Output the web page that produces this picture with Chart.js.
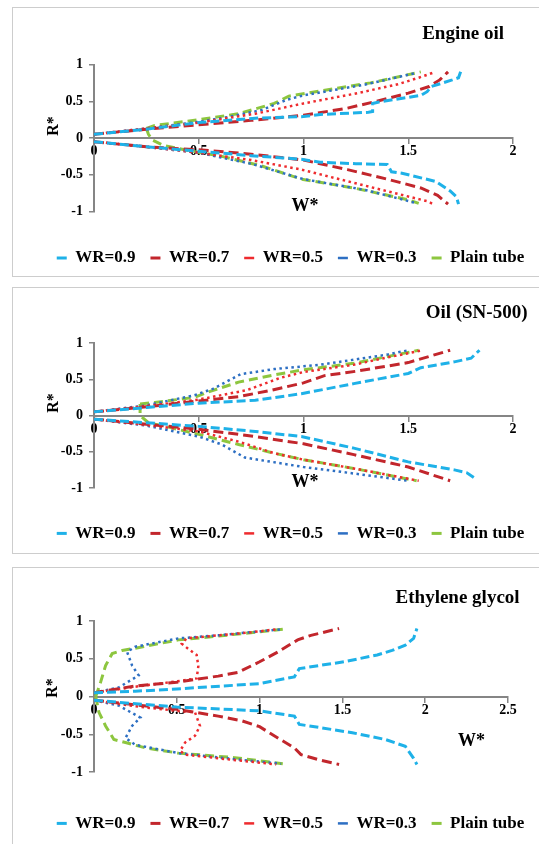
<!DOCTYPE html>
<html><head><meta charset="utf-8">
<script src="https://cdn.jsdelivr.net/npm/chart.js@4.4.1/dist/chart.umd.min.js"></script>
<style>
html,body{margin:0;padding:0;background:#fff;overflow:hidden;width:539px;height:844px;}
#page{position:relative;width:539px;height:844px;overflow:hidden;background:#fff;}
.frame{position:absolute;border:1px solid #cdcdcd;box-sizing:border-box;}
canvas{position:absolute;left:8px;}
.lbl{position:absolute;font-family:'Liberation Serif','Times New Roman',serif;font-weight:bold;color:#000;white-space:nowrap;}
.ttl{font-size:19px;line-height:19px;}
.wax{font-size:18px;line-height:18px;}
.rax{font-size:16px;line-height:16px;transform:translate(-50%,-50%) rotate(-90deg);}
</style></head>
<body><div id="page">
<div class="frame" style="left:12px;top:7px;width:540px;height:270px"></div>
<div class="frame" style="left:12px;top:287px;width:540px;height:267px"></div>
<div class="frame" style="left:12px;top:567px;width:540px;height:300px"></div>
<canvas id="c1" width="565" height="273" style="top:8px"></canvas>
<canvas id="c2" width="565" height="269" style="top:288px"></canvas>
<canvas id="c3" width="565" height="279" style="top:568px"></canvas>
<div class="lbl ttl" style="right:35px;top:23.4px">Engine oil</div>
<div class="lbl ttl" style="right:11.5px;top:302.4px">Oil (SN-500)</div>
<div class="lbl ttl" style="right:19.4px;top:587.4px">Ethylene glycol</div>
<div class="lbl rax" style="left:52.5px;top:126px">R*</div>
<div class="lbl rax" style="left:52.5px;top:402.5px">R*</div>
<div class="lbl rax" style="left:52px;top:688px">R*</div>
<div class="lbl wax" style="left:291.5px;top:196.4px">W*</div>
<div class="lbl wax" style="left:291.5px;top:472.2px">W*</div>
<div class="lbl wax" style="left:458px;top:731px">W*</div>
</div>
<script>
// ---------- data ----------
const seriesLabels = ['WR=0.9', 'WR=0.7', 'WR=0.5', 'WR=0.3', 'Plain tube'];
const xTicksOil = [0, 0.5, 1, 1.5, 2];
const xTicksGlycol = [0, 0.5, 1, 1.5, 2, 2.5];
const yTicks = [-1, -0.5, 0, 0.5, 1];

// Engine oil
const eoWR09Up = [[0,0.05],[0.25,0.12],[0.5,0.21],[0.77,0.27],[0.99,0.29],[1.08,0.32],[1.31,0.35],[1.33,0.36],[1.33,0.47],[1.36,0.49],[1.56,0.58],[1.59,0.63],[1.61,0.7],[1.71,0.79],[1.74,0.82],[1.75,0.9]];
const eoWR09Lo = [[0,-0.05],[0.25,-0.12],[0.5,-0.18],[0.75,-0.24],[0.99,-0.29],[1.08,-0.33],[1.25,-0.35],[1.4,-0.36],[1.42,-0.46],[1.47,-0.48],[1.63,-0.59],[1.7,-0.72],[1.73,-0.8],[1.74,-0.9]];
const eoWR07Up = [[0,0.05],[0.25,0.12],[0.5,0.18],[0.75,0.24],[1.0,0.31],[1.2,0.4],[1.35,0.5],[1.5,0.61],[1.6,0.7],[1.65,0.79],[1.69,0.9]];
const eoWR07Lo = [[0,-0.05],[0.25,-0.12],[0.5,-0.16],[0.75,-0.22],[1.0,-0.3],[1.21,-0.43],[1.4,-0.56],[1.56,-0.68],[1.64,-0.78],[1.69,-0.9]];
const eoWR05Up = [[0,0.05],[0.25,0.13],[0.5,0.21],[0.77,0.33],[1.0,0.47],[1.24,0.6],[1.45,0.73],[1.55,0.82],[1.63,0.9]];
const eoWR05Lo = [[0,-0.05],[0.25,-0.12],[0.5,-0.2],[0.75,-0.3],[0.99,-0.43],[1.24,-0.61],[1.45,-0.76],[1.59,-0.86],[1.62,-0.9]];
const eoWR03Up = [[0,0.05],[0.25,0.13],[0.5,0.22],[0.65,0.29],[0.8,0.38],[0.92,0.52],[1.0,0.58],[1.3,0.73],[1.53,0.88]];
const eoWR03Lo = [[0,-0.05],[0.25,-0.12],[0.5,-0.2],[0.75,-0.35],[1.0,-0.56],[1.3,-0.71],[1.53,-0.88]];
const eoPlainUp = [[0.25,0.13],[0.29,0.17],[0.5,0.25],[0.69,0.33],[0.86,0.47],[0.93,0.57],[1.08,0.64],[1.32,0.75],[1.56,0.9]];
const eoPlainLo = [[0.25,0.13],[0.26,0.05],[0.28,-0.03],[0.33,-0.1],[0.45,-0.17],[0.61,-0.25],[0.8,-0.38],[0.99,-0.56],[1.24,-0.68],[1.5,-0.84],[1.55,-0.89]];

// Oil (SN-500)
const snWR09Up = [[0,0.05],[0.25,0.11],[0.5,0.17],[0.77,0.21],[0.99,0.3],[1.24,0.44],[1.5,0.58],[1.56,0.66],[1.72,0.74],[1.8,0.79],[1.84,0.9]];
const snWR09Lo = [[0,-0.05],[0.25,-0.1],[0.5,-0.15],[0.77,-0.22],[0.99,-0.29],[1.24,-0.45],[1.5,-0.64],[1.72,-0.75],[1.78,-0.79],[1.82,-0.87]];
const snWR07Up = [[0,0.05],[0.25,0.12],[0.5,0.2],[0.69,0.26],[0.85,0.35],[1.0,0.45],[1.1,0.55],[1.25,0.61],[1.5,0.73],[1.7,0.9]];
const snWR07Lo = [[0,-0.05],[0.25,-0.12],[0.5,-0.19],[0.77,-0.29],[1.0,-0.39],[1.24,-0.54],[1.5,-0.71],[1.7,-0.9]];
const snWR05Up = [[0,0.05],[0.25,0.13],[0.5,0.22],[0.73,0.35],[0.89,0.52],[1.0,0.6],[1.24,0.7],[1.4,0.8],[1.57,0.9]];
const snWR05Lo = [[0,-0.05],[0.25,-0.13],[0.5,-0.22],[0.69,-0.36],[0.86,-0.52],[1.0,-0.61],[1.24,-0.73],[1.55,-0.9]];
const snWR03Up = [[0,0.05],[0.25,0.14],[0.48,0.28],[0.57,0.37],[0.7,0.57],[0.86,0.64],[1.08,0.7],[1.4,0.84],[1.5,0.9]];
const snWR03Lo = [[0,-0.05],[0.25,-0.14],[0.5,-0.29],[0.61,-0.4],[0.72,-0.58],[1.0,-0.71],[1.24,-0.8],[1.5,-0.9]];
const snPlainUp = [[0.22,0.16],[0.29,0.18],[0.48,0.25],[0.54,0.32],[0.69,0.46],[0.86,0.56],[1.0,0.63],[1.24,0.72],[1.55,0.9]];
const snPlainLo = [[0.22,0.16],[0.22,0.0],[0.26,-0.1],[0.37,-0.17],[0.5,-0.26],[0.69,-0.4],[0.86,-0.52],[1.0,-0.61],[1.24,-0.73],[1.54,-0.9]];

// Ethylene glycol
const egWR09Up = [[0,0.05],[0.25,0.07],[0.5,0.1],[1.0,0.17],[1.21,0.26],[1.24,0.37],[1.36,0.41],[1.51,0.46],[1.71,0.55],[1.8,0.61],[1.88,0.68],[1.93,0.77],[1.95,0.9]];
const egWR09Lo = [[0,-0.05],[0.5,-0.14],[1.0,-0.19],[1.21,-0.26],[1.24,-0.37],[1.36,-0.41],[1.56,-0.48],[1.76,-0.57],[1.88,-0.66],[1.93,-0.82],[1.95,-0.9]];
const egWR07Up = [[0,0.05],[0.25,0.14],[0.5,0.19],[0.75,0.27],[0.87,0.32],[1.0,0.46],[1.11,0.59],[1.23,0.75],[1.31,0.81],[1.48,0.9]];
const egWR07Lo = [[0,-0.05],[0.25,-0.11],[0.5,-0.17],[0.75,-0.26],[0.89,-0.32],[1.0,-0.4],[1.11,-0.55],[1.21,-0.68],[1.25,-0.77],[1.36,-0.84],[1.48,-0.9]];
const egWR05Up = [[0,0.05],[0.25,0.13],[0.5,0.2],[0.62,0.24],[0.63,0.4],[0.62,0.55],[0.57,0.63],[0.53,0.7],[0.56,0.77],[0.75,0.81],[0.95,0.85],[1.1,0.89]];
const egWR05Lo = [[0,-0.05],[0.25,-0.13],[0.5,-0.19],[0.61,-0.21],[0.64,-0.39],[0.61,-0.52],[0.55,-0.61],[0.52,-0.72],[0.55,-0.77],[0.8,-0.83],[1.1,-0.9]];
const egWR03Up = [[0,0.05],[0.15,0.12],[0.27,0.28],[0.23,0.41],[0.2,0.59],[0.25,0.66],[0.51,0.77],[0.75,0.81],[1.13,0.89]];
const egWR03Lo = [[0,-0.05],[0.15,-0.12],[0.28,-0.28],[0.23,-0.39],[0.19,-0.55],[0.25,-0.64],[0.51,-0.75],[0.85,-0.83],[1.13,-0.89]];
const egPlainUp = [[0.01,0.0],[0.02,0.06],[0.04,0.19],[0.07,0.41],[0.11,0.57],[0.17,0.61],[0.25,0.64],[0.51,0.75],[0.75,0.8],[1.14,0.89]];
const egPlainLo = [[0.01,0.0],[0.03,-0.21],[0.07,-0.39],[0.12,-0.57],[0.19,-0.61],[0.31,-0.68],[0.51,-0.75],[0.85,-0.81],[1.14,-0.89]];

// ---------- rendering ----------
const FONT = "'Liberation Serif', 'Times New Roman', serif";
Chart.defaults.font.family = FONT;
Chart.defaults.font.weight = 'bold';
Chart.defaults.color = '#000';

function buildChart(id, xMax, xTicks, branches, lay) {
  const STYLE = [
    {color: '#1EB1E8', dash: [9, 4], width: 3},
    {color: '#C2262C', dash: [10, 5], width: 3},
    {color: '#EE2B2E', dash: [2.5, 3.5], width: 2.5},
    {color: '#2D6FC3', dash: [2.5, 3.5], width: 2.5},
    {color: '#8DC63F', dash: [9, 5], width: 3}
  ];
  const toPts = arr => arr.map(p => ({x: p[0], y: p[1]}));
  const datasets = branches.map((b, i) => ({
    label: seriesLabels[i],
    data: toPts(b[0]).concat([{x: null, y: null}], toPts(b[1])),
    showLine: true,
    borderColor: STYLE[i].color,
    backgroundColor: STYLE[i].color,
    borderDash: STYLE[i].dash,
    borderWidth: STYLE[i].width,
    pointRadius: 0,
    pointStyle: 'line',
    tension: 0,
    spanGaps: false
  }));
  const AX = '#858585';
  const fmt = v => String(v);
  return new Chart(document.getElementById(id), {
    type: 'scatter',
    data: {datasets},
    options: {
      responsive: false, animation: false, devicePixelRatio: 1,
      layout: {padding: {left: 0, right: 0, top: lay.padT, bottom: lay.padB}},
      plugins: {
        tooltip: {enabled: false},
        legend: {
          position: 'bottom', align: 'center',
          title: {display: true, text: '', font: {size: 1}, padding: {top: lay.gap - 1.2, bottom: 0}},
          labels: {usePointStyle: true, pointStyle: 'line', pointStyleWidth: 10, padding: 15,
                   color: '#000', font: {size: 17, weight: 'bold', family: FONT}}
        }
      },
      scales: {
        x: {
          type: 'linear', position: {y: 0}, min: 0, max: xMax,
          afterBuildTicks: s => { s.ticks = xTicks.map(v => ({value: v})); },
          grid: {display: true, drawOnChartArea: false, drawTicks: true, tickLength: 5, color: AX, lineWidth: 1.5},
          border: {display: true, color: AX, width: 2},
          ticks: {font: {size: 14, weight: 'bold'}, color: '#000', padding: 0, maxRotation: 0, autoSkip: false, callback: fmt}
        },
        y: {
          type: 'linear', position: 'left', min: -1, max: 1,
          afterBuildTicks: s => { s.ticks = yTicks.map(v => ({value: v})); },
          afterFit: s => { s.width = 86; },
          grid: {display: true, drawOnChartArea: false, drawTicks: true, tickLength: 5, color: AX, lineWidth: 1.5},
          border: {display: true, color: AX, width: 2},
          ticks: {font: {size: 14, weight: 'bold'}, color: '#000', padding: 6, callback: fmt}
        },
        yR: {
          type: 'linear', position: 'right', display: true,
          grid: {display: false}, border: {display: false}, ticks: {display: false},
          afterFit: s => { s.width = lay.rightW; }
        }
      }
    }
  });
}

buildChart('c1', 2, xTicksOil,
  [[eoWR09Up, eoWR09Lo], [eoWR07Up, eoWR07Lo], [eoWR05Up, eoWR05Lo], [eoWR03Up, eoWR03Lo], [eoPlainUp, eoPlainLo]],
  {padT: 56.5, padB: 4.5, gap: 23, rightW: 60});
buildChart('c2', 2, xTicksOil,
  [[snWR09Up, snWR09Lo], [snWR07Up, snWR07Lo], [snWR05Up, snWR05Lo], [snWR03Up, snWR03Lo], [snPlainUp, snPlainLo]],
  {padT: 55, padB: 5.1, gap: 21.9, rightW: 60});
buildChart('c3', 2.5, xTicksGlycol,
  [[egWR09Up, egWR09Lo], [egWR07Up, egWR07Lo], [egWR05Up, egWR05Lo], [egWR03Up, egWR03Lo], [egPlainUp, egPlainLo]],
  {padT: 53, padB: 5.1, gap: 27.9, rightW: 65});
</script>
</body></html>
